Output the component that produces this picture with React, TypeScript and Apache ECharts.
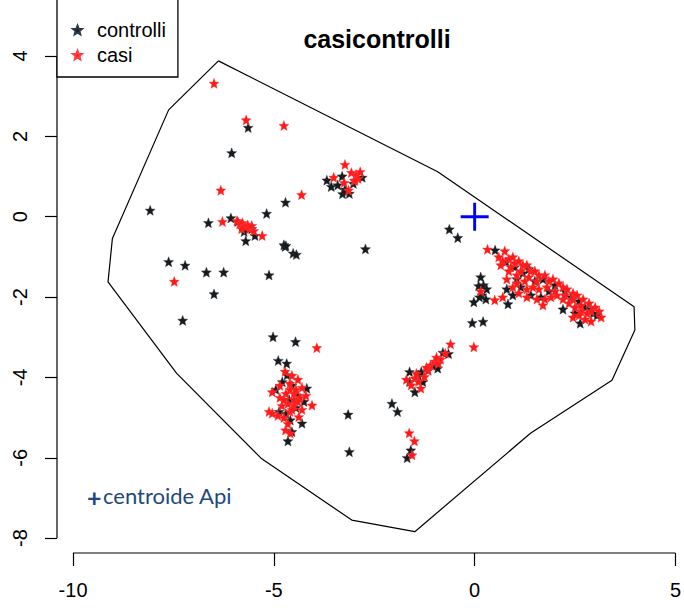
import React, { useEffect, useRef } from "react";
import * as echarts from "echarts";

// Scatter of controls and cases with the convex hull of all points
const titleText = "casicontrolli";
const seriesNames = ["controlli", "casi"];

const xTicks = [-10, -5, 0, 5];
const yTicks = [-8, -6, -4, -2, 0, 2, 4];
const xRange = [-10.4, 5.12];
const yRange = [-8.37, 5.395];

const centroid = [[0, 0]];
const centroidLabel = "centroide Api";

const hull = [
  [-6.38, 3.88], [-7.62, 2.66], [-9.02, -0.54], [-9.13, -1.62], [-7.42, -3.9],
  [-5.32, -6.01], [-3.06, -7.55], [-1.49, -7.84], [1.39, -5.39], [3.42, -4.07],
  [3.99, -2.82], [3.97, -2.24], [-0.92, 1.12], [-6.38, 3.88],
];

const controlli = [
  [-5.64, 2.22], [-6.05, 1.59], [-4.71, 0.36], [-5.18, 0.08], [-6.63, -0.15],
  [-6.07, -0.03], [-5.9, -0.12], [-5.78, -0.22], [-5.62, -0.28], [-5.74, -0.37],
  [-5.7, -0.6], [-5.47, -0.47], [-5.55, -0.3], [-4.75, -0.7], [-4.72, -0.74],
  [-4.7, -0.72], [-4.52, -0.91], [-4.44, -0.94], [-2.72, -0.8], [-8.08, 0.16],
  [-7.62, -1.12], [-7.21, -1.21], [-6.68, -1.38], [-6.25, -1.38], [-5.12, -1.45],
  [-6.49, -1.92], [-7.27, -2.58],
  [-3.68, 0.91], [-3.3, 1.01], [-3.57, 0.75], [-3.41, 0.79], [-3.23, 0.68],
  [-3.29, 0.57], [-3.12, 0.58], [-2.8, 0.98], [-3.02, 0.83], [-3.2, 0.62],
  [-5.02, -2.99], [-4.46, -3.11], [-4.89, -3.58], [-4.68, -3.65], [-4.67, -3.94],
  [-4.79, -4.11], [-4.95, -4.3], [-4.18, -4.27], [-4.55, -4.2], [-4.4, -4.45],
  [-4.62, -4.55], [-4.87, -4.85], [-4.59, -5.06], [-4.3, -5.14], [-4.55, -5.35],
  [-4.65, -5.58], [-4.45, -4.75], [-4.7, -4.9], [-4.25, -4.6], [-3.15, -4.92],
  [-3.12, -5.85], [-2.06, -4.65], [-1.92, -4.85], [-1.59, -5.81], [-1.68, -6.0],
  [-0.79, -3.38], [-0.65, -3.41], [-0.92, -3.77], [-1.62, -3.86], [-1.33, -3.86],
  [-1.16, -3.82], [-1.62, -4.11], [-1.29, -4.11], [-1.49, -4.36], [-1.05, -3.7],
  [-1.4, -3.95],
  [-0.63, -0.31], [-0.42, -0.52], [0.51, -0.83], [0.78, -1.12], [0.15, -1.5],
  [0.22, -1.7], [0.1, -1.72], [0.3, -1.8], [0.18, -1.95], [0.28, -2.05],
  [0.12, -2.0], [-0.02, -2.12], [0.83, -2.17], [-0.06, -2.64], [0.21, -2.61],
  [1.0, -1.25], [1.2, -1.4], [1.35, -1.3], [1.05, -1.55], [0.8, -1.8],
  [0.95, -1.95], [1.5, -1.6], [1.7, -1.55], [1.85, -1.85], [1.65, -2.0],
  [2.0, -1.7], [2.25, -1.85], [2.4, -2.0], [2.6, -2.1], [2.75, -2.25],
  [2.9, -2.3], [2.5, -2.4], [2.2, -2.3], [1.4, -1.95], [2.95, -2.4],
  [2.63, -2.65], [3.05, -2.45], [1.15, -1.75],
];

const casi = [
  [-6.49, 3.32], [-5.69, 2.41], [-4.75, 2.27], [-6.32, 0.66], [-4.31, 0.55],
  [-6.28, -0.12], [-5.92, -0.1], [-5.85, -0.18], [-5.78, -0.15], [-5.72, -0.25],
  [-5.65, -0.2], [-5.6, -0.3], [-5.55, -0.22], [-5.5, -0.35], [-5.8, -0.3],
  [-5.29, -0.47], [-7.48, -1.61],
  [-3.23, 1.3], [-3.51, 0.98], [-3.07, 1.1], [-2.95, 1.05], [-2.9, 0.95],
  [-3.0, 0.9], [-2.85, 1.12], [-3.14, 0.66], [-2.98, 0.91], [-3.25, 0.85],
  [-3.93, -3.26], [-4.72, -3.85], [-4.55, -3.95], [-4.4, -4.05], [-4.85, -4.2],
  [-4.6, -4.3], [-4.3, -4.25], [-4.5, -4.4], [-4.7, -4.4], [-4.35, -4.5],
  [-4.85, -4.5], [-5.04, -4.36], [-4.65, -4.65], [-4.5, -4.7], [-4.3, -4.8],
  [-4.05, -4.69], [-4.8, -4.7], [-5.12, -4.85], [-5.04, -4.89], [-4.6, -4.85],
  [-4.38, -4.98], [-4.75, -5.0], [-4.71, -5.31], [-4.59, -5.39], [-4.2, -4.45],
  [-4.45, -4.3], [-4.6, -4.15], [-4.75, -4.55], [-4.4, -4.6], [-4.55, -4.8],
  [-4.9, -4.95], [-4.65, -5.15], [-4.5, -4.55],
  [-1.63, -5.38], [-1.5, -5.58], [-1.56, -5.93],
  [-0.6, -3.17], [-0.02, -3.24], [-0.73, -3.4], [-0.85, -3.55], [-1.0, -3.6],
  [-1.1, -3.7], [-0.9, -3.65], [-1.16, -3.82], [-1.49, -4.02], [-1.25, -3.98],
  [-1.58, -4.19], [-1.34, -4.27], [-1.45, -3.9], [-1.7, -4.05],
  [-1.2, -3.75], [-1.4, -4.1], [-0.95, -3.5],
  [0.32, -0.81], [0.75, -0.85], [0.5, -2.07], [0.15, -1.85], [0.6, -1.0],
  [0.7, -1.1], [0.85, -1.05], [1.0, -1.15], [0.95, -1.0], [1.1, -1.1],
  [1.2, -1.2], [1.3, -1.2], [1.4, -1.35], [1.5, -1.35], [1.6, -1.45],
  [1.75, -1.45], [1.85, -1.6], [1.95, -1.55], [2.1, -1.65], [2.2, -1.75],
  [2.3, -1.8], [2.45, -1.9], [2.55, -1.95], [2.7, -2.05], [2.85, -2.15],
  [3.0, -2.25], [3.15, -2.5], [2.8, -2.4], [2.65, -2.35], [2.5, -2.25],
  [2.35, -2.15], [2.2, -2.05], [2.05, -1.95], [1.9, -2.0], [1.75, -2.05],
  [1.55, -2.05], [1.3, -2.0], [1.1, -1.9], [0.95, -1.75], [1.25, -1.6],
  [1.45, -1.75], [1.6, -1.8], [0.85, -1.35], [1.05, -1.45], [2.75, -2.55],
  [2.45, -2.5], [2.9, -2.6], [0.7, -2.0], [1.7, -2.2],
  [0.65, -1.2], [0.9, -1.25], [1.15, -1.35], [1.35, -1.5], [1.55, -1.6],
  [1.8, -1.75], [2.0, -1.85], [2.25, -1.95], [2.45, -2.05], [2.65, -2.2],
  [2.9, -2.35], [1.05, -1.65], [1.3, -1.8], [0.8, -1.55], [2.6, -2.45],
  [3.1, -2.35],
];

const FONT = "'Liberation Sans', Arial, sans-serif";
const STAR =
  "path://M10,0L12.6,6.6L19.51,6.91L14.2,11.3L15.88,18.09L10,14.5L4.12,18.09L5.8,11.3L0.49,6.91L7.4,6.6Z";
const PLUS = "path://M13,0H16V13H29V16H16V29H13V16H0V13H13Z";

export default function App() {
  const ref = useRef<HTMLDivElement>(null);

  useEffect(() => {
    if (!ref.current) return;
    const chart = echarts.init(ref.current, null, { renderer: "svg" });
    const axisLineStyle = { color: "#000", width: 1.2 };
    chart.setOption({
      animation: false,
      backgroundColor: "#fff",
      title: {
        text: titleText,
        left: 372,
        top: 21,
        textAlign: "center",
        textStyle: { fontFamily: FONT, fontWeight: "bold", fontSize: 25, color: "#000" },
      },
      legend: {
        data: seriesNames,
        orient: "vertical",
        left: 57,
        top: -1,
        padding: [21, 12, 12, 15],
        itemWidth: 9,
        itemHeight: 9,
        itemGap: 5,
        icon: STAR,
        borderColor: "#000",
        borderWidth: 1.3,
        backgroundColor: "#fff",
        selectedMode: false,
        textStyle: { fontFamily: FONT, fontSize: 20, color: "#000", lineHeight: 20, padding: [0, 0, 0, 10] },
      },
      grid: { left: 57, top: 0, width: 627, height: 553, containLabel: false },
      xAxis: {
        type: "value",
        min: xRange[0],
        max: xRange[1],
        splitLine: { show: false },
        axisLine: { show: false, onZero: false },
        axisTick: { show: true, length: 13, customValues: xTicks, lineStyle: axisLineStyle },
        axisLabel: { customValues: xTicks, fontFamily: FONT, fontSize: 20, color: "#000", margin: 27 },
      },
      yAxis: {
        type: "value",
        min: yRange[0],
        max: yRange[1],
        splitLine: { show: false },
        axisLine: { show: false, onZero: false },
        axisTick: { show: true, length: 12, customValues: yTicks, lineStyle: axisLineStyle },
        axisLabel: { customValues: yTicks, fontFamily: FONT, fontSize: 20, color: "#000", margin: 27, rotate: 90 },
      },
      graphic: [
        {
          type: "text",
          left: 87,
          top: 484,
          style: { text: "+", fill: "#1f497d", font: "bold 25px 'Lato', 'Open Sans', sans-serif" },
        },
        {
          type: "text",
          left: 103,
          top: 484,
          style: { text: centroidLabel, fill: "#1f497d", font: "22px 'Lato', 'Open Sans', sans-serif" },
        },
      ],
      series: [
        {
          name: "hull",
          type: "line",
          data: hull,
          symbol: "none",
          clip: false,
          silent: true,
          lineStyle: { color: "#000", width: 1.2 },
        },
        {
          name: "xaxisline",
          type: "line",
          data: [[xTicks[0], yRange[0]], [xTicks[xTicks.length - 1], yRange[0]]],
          symbol: "none",
          clip: false,
          silent: true,
          lineStyle: axisLineStyle,
        },
        {
          name: "yaxisline",
          type: "line",
          data: [[xRange[0], yTicks[0]], [xRange[0], yTicks[yTicks.length - 1]]],
          symbol: "none",
          clip: false,
          silent: true,
          lineStyle: axisLineStyle,
        },
        {
          name: seriesNames[0],
          type: "scatter",
          data: controlli,
          symbol: STAR,
          symbolSize: 10,
          itemStyle: { color: "#1a1a1a", borderColor: "#2b3a4a", borderWidth: 0.4, opacity: 1 },
        },
        {
          name: seriesNames[1],
          type: "scatter",
          data: casi,
          symbol: STAR,
          symbolSize: 10,
          itemStyle: { color: "#ff1a1a", borderColor: "#ff4040", borderWidth: 0.4, opacity: 1 },
        },
        {
          name: "centroide",
          type: "scatter",
          data: centroid,
          symbol: PLUS,
          symbolSize: 28,
          itemStyle: { color: "#0000ff", opacity: 1 },
        },
      ],
    });
    return () => chart.dispose();
  }, []);

  return (
    <div
      ref={ref}
      style={{ position: "fixed", left: 0, top: 0, width: 684, height: 608, background: "#fff" }}
    />
  );
}
